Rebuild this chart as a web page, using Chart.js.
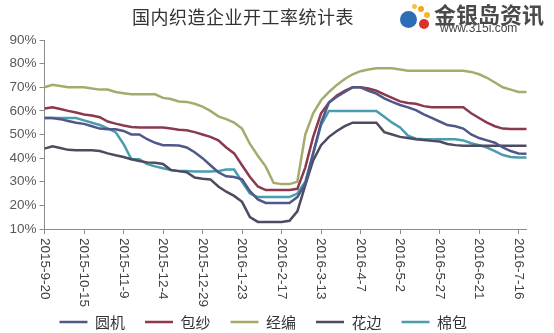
<!DOCTYPE html>
<html>
<head>
<meta charset="utf-8">
<script src="https://cdn.jsdelivr.net/npm/chart.js@4.4.0/dist/chart.umd.min.js"></script>
<style>
  body { margin: 0; background: #fff; }
  #wrap { position: relative; width: 554px; height: 333px; overflow: hidden; }
  #title { position: absolute; left: 0; width: 486px; top: 3px; text-align: center;
           font: 18px "Noto Sans CJK SC", sans-serif; color: #333; letter-spacing: 0.5px; }
  #logo { position: absolute; left: 398px; top: 1px; width: 156px; height: 34px; }
  #logo .dot { position: absolute; border-radius: 50%; }
  #logo .name { position: absolute; left: 36px; top: -4px; font: bold 22px "Noto Sans CJK SC", sans-serif; color: #4a4a4a; white-space: nowrap; }
  #logo .url { position: absolute; left: 42px; top: 20px; font: 12px "Liberation Sans", Arial, sans-serif; color: #444; white-space: nowrap; }
</style>
</head>
<body>
<div id="wrap">
  <canvas id="chart" width="554" height="333"></canvas>
  <div id="title">国内织造企业开工率统计表</div>
  <div id="logo">
    <div class="dot" style="left:2px;top:10px;width:17px;height:17px;background:#2d6db5;"></div>
    <div class="dot" style="left:20px;top:5px;width:6px;height:6px;background:#f2a81d;"></div>
    <div class="dot" style="left:26px;top:11px;width:6px;height:6px;background:#f5b62a;"></div>
    <div class="dot" style="left:21px;top:18px;width:10px;height:10px;background:#d9322e;"></div>
    <div class="dot" style="left:14px;top:3px;width:5px;height:5px;background:#f5c04a;"></div>
    <div class="name">金银岛资讯</div>
    <div class="url">www.315i.com</div>
  </div>
</div>
<script>
// 日期（每5天一个点）
var dates = [
  "2015-9-20", "2015-9-25", "2015-9-30", "2015-10-5", "2015-10-10",
  "2015-10-15", "2015-10-20", "2015-10-25", "2015-10-30", "2015-11-4",
  "2015-11-9", "2015-11-14", "2015-11-19", "2015-11-24", "2015-11-29",
  "2015-12-4", "2015-12-9", "2015-12-14", "2015-12-19", "2015-12-24",
  "2015-12-29", "2016-1-3", "2016-1-8", "2016-1-13", "2016-1-18",
  "2016-1-23", "2016-1-28", "2016-2-2", "2016-2-7", "2016-2-12",
  "2016-2-17", "2016-2-22", "2016-2-27", "2016-3-3", "2016-3-8",
  "2016-3-13", "2016-3-18", "2016-3-23", "2016-3-28", "2016-4-2",
  "2016-4-7", "2016-4-12", "2016-4-17", "2016-4-22", "2016-4-27",
  "2016-5-2", "2016-5-7", "2016-5-12", "2016-5-17", "2016-5-22",
  "2016-5-27", "2016-6-1", "2016-6-6", "2016-6-11", "2016-6-16",
  "2016-6-21", "2016-6-26", "2016-7-1", "2016-7-6", "2016-7-11",
  "2016-7-16", "2016-7-21"
];

// 开工率 (%)
var yuanji = [
  57, 57, 56.5, 55.7, 55, 54.5, 53.5, 52.5, 52.2, 52.2,
  51.5, 50, 50, 48, 46.5, 45.5, 45.5, 45.3, 44.5, 42.5,
  40, 37, 34, 32.3, 32, 31, 26, 22.5, 21, 21,
  21, 21, 23.5, 29, 42, 55, 63.5, 66, 68, 70,
  70, 68.5, 67.3, 65.3, 63.8, 62.5, 61.5, 60.3, 58.5, 57,
  55.5, 54, 53.5, 52.5, 50, 48.5, 47.5, 46.5, 44.5, 43,
  42, 41.8
];
var baosha = [
  61, 61.5, 60.8, 60, 59.3, 58.5, 58, 57.3, 55.5, 54.6,
  53.8, 53.2, 53, 53, 53, 53, 52.5, 52, 51.8, 51,
  50, 49, 47.5, 44.5, 42, 37, 32, 28, 26.5, 26.5,
  26.5, 26.5, 27, 36, 49, 59, 63.5, 66.5, 68.5, 70,
  70, 69.5, 68.5, 67, 65.5, 64, 63.3, 63, 62, 61.5,
  61.5, 61.5, 61.5, 61.5, 59, 57, 55, 53.5, 52.5, 52.3,
  52.3, 52.3
];
var jingbian = [
  70, 71, 70.5, 70, 70, 70, 69.5, 69, 69, 68,
  67.5, 67, 67, 67, 67, 65.5, 65, 64, 63.8, 63,
  61.8, 60, 57.7, 56.5, 55, 52.5, 46, 41, 36.4, 29.5,
  29, 29, 30, 50, 59, 64.5, 68, 71, 73.5, 75.5,
  76.8, 77.5, 78, 78, 78, 77.5, 77, 77, 77, 77,
  77, 77, 77, 77, 76.5, 75.5, 74, 72, 70, 69,
  68, 68
];
var huabian = [
  44, 45, 44.3, 43.5, 43.3, 43.3, 43.3, 43, 42, 41.2,
  40.5, 39.5, 38.8, 38.2, 38, 37.5, 35, 34.5, 34, 31.8,
  31.3, 31, 28, 25.8, 24, 21.5, 15, 13, 13, 13,
  13, 13.5, 17.5, 28.5, 39, 45.5, 49, 51.5, 53.5, 55,
  55, 55, 55, 51, 50, 49, 48.5, 48, 47.7, 47.3,
  47, 46, 45.5, 45.2, 45.2, 45.2, 45.2, 45.2, 45.2, 45.2,
  45.2, 45.2
];
var mianbao = [
  57, 57, 57, 57, 57, 56, 55, 54, 52.6, 51,
  46, 39.5, 39.5, 37.5, 36.5, 35.7, 35, 34.5, 34.5, 34.3,
  34.3, 34.3, 34.5, 35.2, 35.2, 30, 25, 23.5, 23.5, 23.5,
  23.5, 23.5, 25, 30, 42, 54, 60, 60, 60, 60,
  60, 60, 60, 57.5, 55, 53, 49.5, 48.2, 48, 48,
  48, 48, 48, 47.5, 46.3, 45.5, 44.5, 43, 41.3, 40.5,
  40.3, 40.3
];

var seriesNames = ["圆机", "包纱", "经编", "花边", "棉包"];
var seriesColors = ["#4f5888", "#8b3a4e", "#a6ab6d", "#4d4b60", "#4a9caf"];
var yTicks = [10, 20, 30, 40, 50, 60, 70, 80, 90];

/**
X轴日期标签（竖排，从上往下读）
*/
var xLabelPlugin = {
  id: 'xLabels',
  afterDraw: function(chart) {
    var ctx = chart.ctx;
    var scale = chart.scales.x;
    ctx.save();
    ctx.font = '13.5px "Liberation Sans", Arial, sans-serif';
    ctx.fillStyle = '#404040';
    ctx.textAlign = 'left';
    ctx.textBaseline = 'middle';
    for (var i = 0; i < dates.length; i += 5) {
      ctx.save();
      ctx.translate(scale.getPixelForValue(i), chart.chartArea.bottom + 9);
      ctx.rotate(Math.PI / 2);
      ctx.fillText(dates[i], 0, 0);
      ctx.restore();
    }
    ctx.restore();
  }
};

function drawChart() {
  var all = [yuanji, baosha, jingbian, huabian, mianbao];
  var datasets = [];
  for (var i = 0; i < all.length; i++) {
    datasets.push({
      label: seriesNames[i],
      data: all[i],
      borderColor: seriesColors[i],
      backgroundColor: seriesColors[i],
      borderWidth: 2.5,
      pointRadius: 0,
      tension: 0,
      fill: false
    });
  }
  var config = {
    type: 'line',
    data: { labels: dates, datasets: datasets },
    options: {
      responsive: false,
      animation: false,
      devicePixelRatio: 1,
      layout: { padding: { top: 40, right: 27.5, left: 0, bottom: -6.5 } },
      plugins: {
        title: { display: false },
        tooltip: { enabled: false },
        legend: {
          position: 'bottom',
          labels: {
            usePointStyle: true,
            pointStyle: 'line',
            pointStyleWidth: 28,
            padding: 20,
            color: '#333',
            font: { size: 15, family: '"Noto Sans CJK SC", sans-serif' }
          }
        }
      },
      scales: {
        x: {
          offset: false,
          afterFit: function(scale) { scale.height = 65.5; },
          border: { color: '#8c8c8c', width: 1 },
          grid: {
            drawOnChartArea: false,
            tickLength: 5,
            tickColor: function(c) { return c.index % 5 === 0 ? '#8c8c8c' : 'rgba(0,0,0,0)'; }
          },
          ticks: { display: false, autoSkip: false }
        },
        y: {
          min: 10,
          max: 90,
          afterFit: function(scale) { scale.width = 44.5; },
          afterBuildTicks: function(scale) {
            scale.ticks = yTicks.map(function(v) { return { value: v }; });
          },
          border: { color: '#8c8c8c', width: 1 },
          grid: { drawOnChartArea: false, tickLength: 5, tickColor: '#8c8c8c' },
          ticks: {
            padding: 3,
            color: '#595959',
            font: { size: 13.5, family: '"Liberation Sans", Arial, sans-serif' },
            callback: function(v) { return v + '%'; }
          }
        }
      }
    },
    plugins: [xLabelPlugin]
  };
  var ctx = document.getElementById("chart").getContext("2d");
  window.myLine = new Chart(ctx, config);
}

drawChart();
</script>
</body>
</html>
